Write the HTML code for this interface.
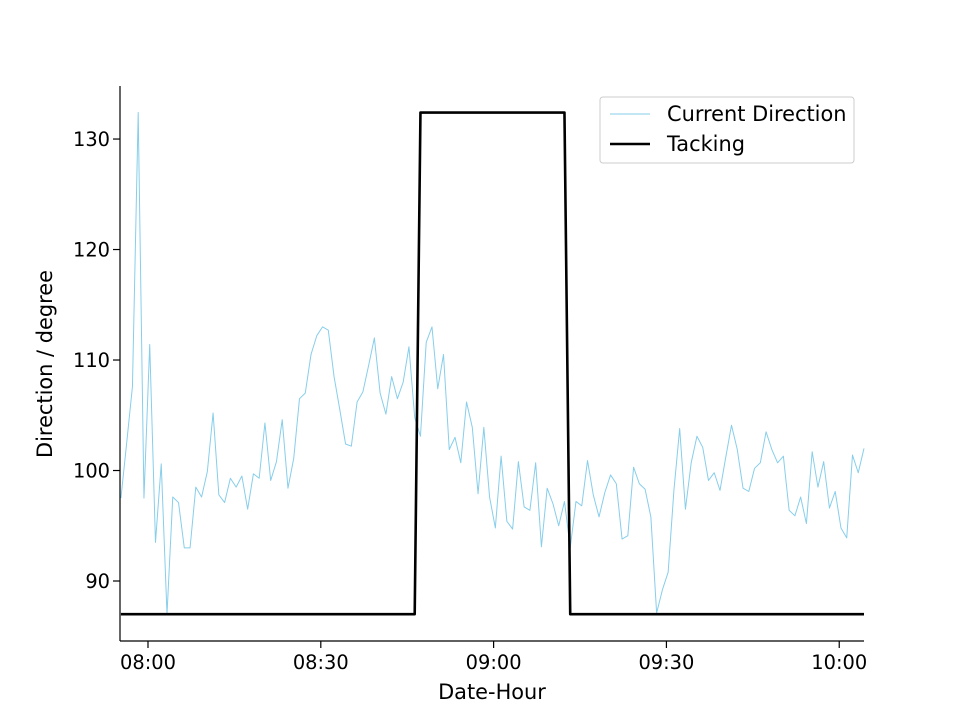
<!DOCTYPE html>
<html><head><meta charset="utf-8"><style>
body{margin:0;background:#fff}
svg text{font-family:"DejaVu Sans","Liberation Sans",sans-serif;font-size:19.4px;fill:#000}
svg text.big{font-size:20.9px}
</style></head><body>
<svg id="chart" width="960" height="720" viewBox="0 0 960 720" xmlns="http://www.w3.org/2000/svg" style="position:absolute;left:0;top:0"></svg>
<script>
const currentDirection=[97.5,102.5,107.6,132.4,97.5,111.4,93.5,100.6,87,97.6,97.1,93,93,98.5,97.6,99.9,105.2,97.8,97.1,99.3,98.5,99.5,96.5,99.7,99.3,104.3,99.1,100.8,104.6,98.4,101.1,106.5,107,110.5,112.2,113,112.7,108.5,105.5,102.4,102.2,106.2,107.1,109.5,112,
107,105.1,108.5,106.5,108,111.2,104.8,103.1,111.6,113,107.4,110.5,101.9,103,100.7,106.2,103.9,97.9,103.9,97.6,94.8,101.3,95.4,94.7,100.8,96.7,96.4,100.7,93.1,98.4,97,95,97.2,93,97.2,96.8,100.9,97.8,95.8,98,99.6,98.8,93.8,
94.1,100.3,98.8,98.3,95.8,87.1,89.2,90.8,98.2,103.8,96.5,100.7,103.1,102.1,99.1,99.8,98.2,101.2,104.1,101.9,98.4,98.1,100.2,100.7,103.5,101.9,100.7,101.3,96.4,95.9,97.6,95.2,101.7,98.5,100.8,96.6,98.1,94.8,93.9,101.4,99.8,102];
const tackingLow=87, tackingHigh=132.4;
const tackingStart=52, tackingEnd=77;
const startMinute=-4.7;
const xTickMinutes=[0,30,60,90,120];
const xTickLabels=["08:00","08:30","09:00","09:30","10:00"];
const yTicks=[90,100,110,120,130];

const NS="http://www.w3.org/2000/svg";
const svg=document.getElementById('chart');
const L=120,R=864,T=86,B=641;
const xMin=-4.86,xMax=124.3,yMin=84.57,yMax=134.8;
const xs=m=>L+(m-xMin)/(xMax-xMin)*(R-L);
const ys=v=>B-(v-yMin)/(yMax-yMin)*(B-T);
function el(tag,attrs,parent){const e=document.createElementNS(NS,tag);for(const k in attrs)e.setAttribute(k,attrs[k]);(parent||svg).appendChild(e);return e;}

const tMin=i=>startMinute+i;
let d=currentDirection.map((v,i)=>(i?'L':'M')+xs(tMin(i)).toFixed(2)+','+ys(v).toFixed(2)).join('');
const cur=el('path',{d:d,fill:'none',stroke:'#87ceeb','stroke-width':1,'stroke-linejoin':'round'});



const tack=currentDirection.map((v,i)=>(i>=tackingStart&&i<=tackingEnd)?tackingHigh:tackingLow);
d=tack.map((v,i)=>(i?'L':'M')+xs(tMin(i)).toFixed(2)+','+ys(v).toFixed(2)).join('');
const tk=el('path',{d:d,fill:'none',stroke:'#000','stroke-width':2.6,'stroke-linejoin':'round'});



const la=el('line',{x1:L,y1:T,x2:L,y2:B,stroke:'#000','stroke-width':1.2});


const ba=el('line',{x1:L,y1:B,x2:R,y2:B,stroke:'#000','stroke-width':1.2});



yTicks.forEach(v=>{const y=ys(v);
 const t=el('line',{x1:L-7,y1:y,x2:L,y2:y,stroke:'#000','stroke-width':1.2});
 
 
 const tx=el('text',{x:L-10,y:y+7,'text-anchor':'end'});tx.textContent=v;
 
 });
xTickMinutes.forEach((m,i)=>{const x=xs(m);
 const t=el('line',{x1:x,y1:B,x2:x,y2:B+7,stroke:'#000','stroke-width':1.2});
 
 
 const tx=el('text',{x:x,y:B+28,'text-anchor':'middle'});tx.textContent=xTickLabels[i];
 
 });
</script>
<svg style="position:absolute;left:0;top:0" width="960" height="720">
<text class="big" x="492" y="699" text-anchor="middle">Date-Hour</text>
<text class="big" transform="translate(52,364) rotate(-90)" text-anchor="middle">Direction / degree</text>
<g>
<rect x="600" y="97" width="254" height="66" rx="3" fill="#fff" fill-opacity="0.8" stroke="#ccc"/>
<line x1="610" y1="114" x2="650" y2="114" stroke="#87ceeb" stroke-width="1"/>
<text class="big" x="667" y="121">Current Direction</text>
<line x1="610" y1="144" x2="650" y2="144" stroke="#000" stroke-width="2.6"/>
<text class="big" x="667" y="151">Tacking</text>
</g>
</svg>
</body></html>
